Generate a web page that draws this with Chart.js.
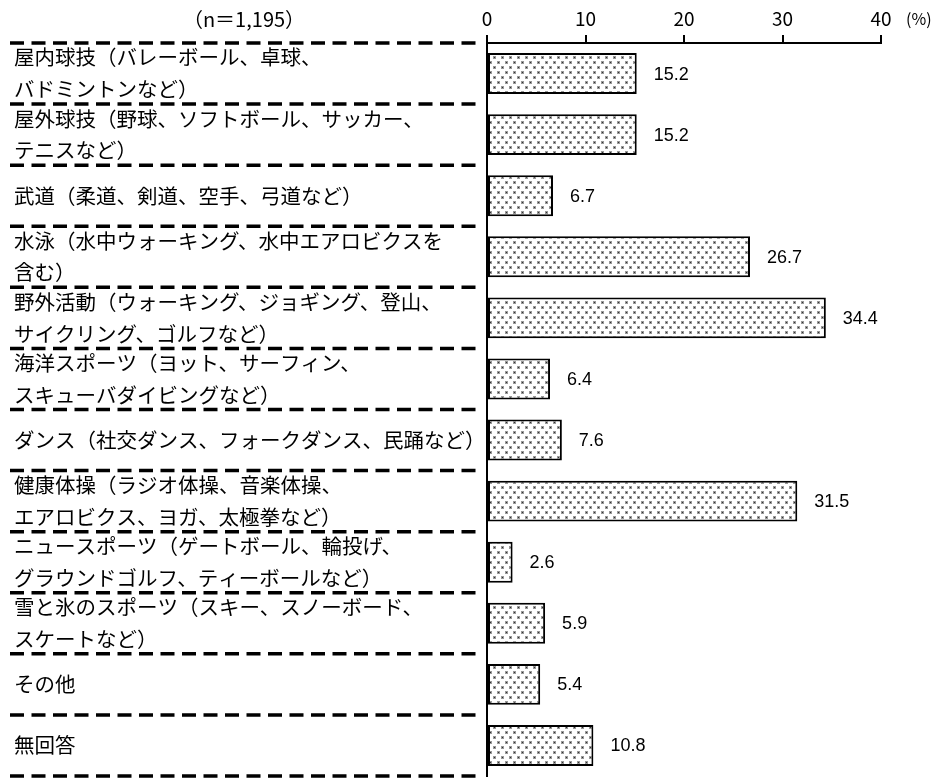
<!DOCTYPE html>
<html lang="ja">
<head>
<meta charset="utf-8">
<script src="https://cdn.jsdelivr.net/npm/chart.js@4/dist/chart.umd.min.js"></script>
<style>
  html, body { margin: 0; padding: 0; background: #fff; }
  #wrap { width: 938px; height: 778px; }
</style>
</head>
<body>
<div id="wrap"><canvas id="chart" width="938" height="778"></canvas></div>
<script>
// categories (two-line labels are kept as arrays)
const categories = [
  ['屋内球技（バレーボール、卓球、', 'バドミントンなど）'],
  ['屋外球技（野球、ソフトボール、サッカー、', 'テニスなど）'],
  '武道（柔道、剣道、空手、弓道など）',
  ['水泳（水中ウォーキング、水中エアロビクスを', '含む）'],
  ['野外活動（ウォーキング、ジョギング、登山、', 'サイクリング、ゴルフなど）'],
  ['海洋スポーツ（ヨット、サーフィン、', 'スキューバダイビングなど）'],
  'ダンス（社交ダンス、フォークダンス、民踊など）',
  ['健康体操（ラジオ体操、音楽体操、', 'エアロビクス、ヨガ、太極拳など）'],
  ['ニュースポーツ（ゲートボール、輪投げ、', 'グラウンドゴルフ、ティーボールなど）'],
  ['雪と氷のスポーツ（スキー、スノーボード、', 'スケートなど）'],
  'その他',
  '無回答'
];
const percents = [15.2, 15.2, 6.7, 26.7, 34.4, 6.4, 7.6, 31.5, 2.6, 5.9, 5.4, 10.8];
const xTicks = [0, 10, 20, 30, 40];
const sampleNote = '（n＝1,195）';
const unitNote = '(%)';

const JP_FONT = '"Noto Sans CJK JP", "Noto Sans", sans-serif';

// dotted fill like the original print pattern
function dotPattern() {
  const c = document.createElement('canvas');
  c.width = 8; c.height = 10;
  const g = c.getContext('2d');
  g.fillStyle = '#fff';
  g.fillRect(0, 0, 8, 10);
  g.fillStyle = '#999';
  g.fillRect(1, 1, 3, 3);
  g.fillRect(5, 6, 3, 3);
  g.fillStyle = '#333';
  g.fillRect(2, 2, 1, 1);
  g.fillRect(6, 7, 1, 1);
  return document.getElementById('chart').getContext('2d').createPattern(c, 'repeat');
}

// dashed separators between rows + notes at the top
const rowLines = {
  id: 'rowLines',
  beforeDatasetsDraw(chart) {
    const { ctx } = chart;
    const y = chart.scales.y;
    const half = (y.getPixelForValue(1) - y.getPixelForValue(0)) / 2;
    ctx.save();
    ctx.strokeStyle = '#000';
    ctx.lineWidth = 3.5;
    ctx.setLineDash([14, 7.5]);
    for (let i = 0; i <= categories.length; i++) {
      const py = y.getPixelForValue(Math.min(i, categories.length - 1)) + (i === categories.length ? half : -half);
      ctx.beginPath();
      ctx.moveTo(10, py);
      ctx.lineTo(481, py);
      ctx.stroke();
    }
    ctx.restore();
  },
  afterDatasetsDraw(chart) {
    const { ctx } = chart;
    const meta = chart.getDatasetMeta(0);
    ctx.save();
    ctx.fillStyle = '#000';
    ctx.font = '18px "Liberation Sans", Arial, sans-serif';
    ctx.textAlign = 'left';
    ctx.textBaseline = 'middle';
    meta.data.forEach((bar, i) => {
      ctx.fillText(percents[i].toFixed(1), bar.x + 17, bar.y + 1);
    });
    ctx.font = '20px ' + JP_FONT;
    ctx.textAlign = 'center';
    ctx.fillText(sampleNote, 244, 19);
    ctx.font = '16px ' + JP_FONT;
    ctx.textAlign = 'left';
    ctx.fillText(unitNote, 906, 19);
    ctx.restore();
  }
};

new Chart(document.getElementById('chart'), {
  type: 'bar',
  data: {
    labels: categories,
    datasets: [{
      data: percents,
      backgroundColor: dotPattern(),
      borderColor: '#000',
      borderWidth: 2,
      borderSkipped: false,
      barPercentage: 0.67,
      categoryPercentage: 1
    }]
  },
  options: {
    indexAxis: 'y',
    responsive: false,
    animation: false,
    devicePixelRatio: 1,
    layout: { padding: { left: 14, right: 57, top: 0, bottom: 2 } },
    plugins: { legend: { display: false }, tooltip: { enabled: false } },
    scales: {
      x: {
        position: 'top',
        min: 0,
        max: 40,
        afterBuildTicks: s => { s.ticks = xTicks.map(v => ({ value: v })); },
        afterFit: s => { s.height = 43; s.paddingLeft = 0; s.paddingRight = 0; },
        ticks: { color: '#000', padding: 5, font: { size: 19, family: JP_FONT } },
        grid: { drawOnChartArea: false, drawTicks: true, tickLength: 8, color: '#000', lineWidth: 2 },
        border: { color: '#000', width: 2 }
      },
      y: {
        afterFit: s => { s.width = 473; s.paddingTop = 0; s.paddingBottom = 0; },
        ticks: {
          color: '#000',
          crossAlign: 'far',
          autoSkip: false,
          font: { size: 20.5, family: JP_FONT, lineHeight: 1.55 }
        },
        grid: { display: false },
        border: { display: true, color: '#000', width: 2 }
      }
    }
  },
  plugins: [rowLines]
});
</script>
</body>
</html>
